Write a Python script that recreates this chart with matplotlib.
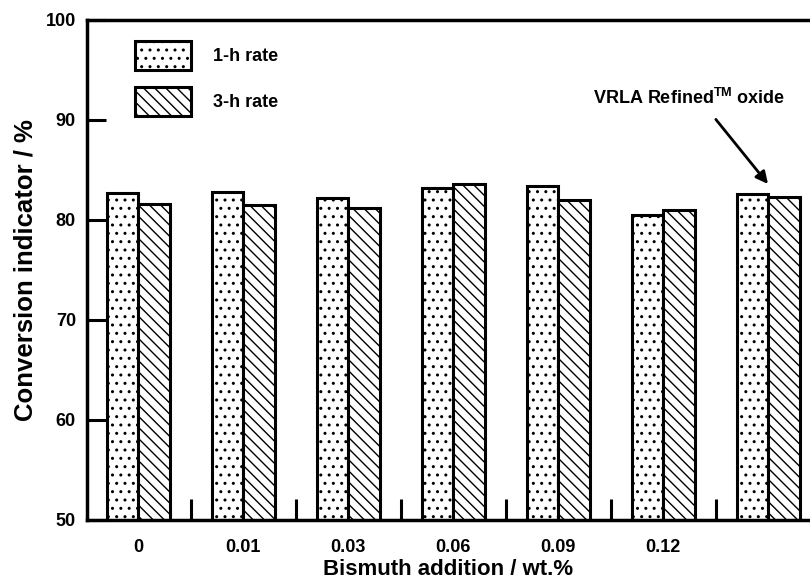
import numpy as np
import matplotlib
matplotlib.use('Agg')
import matplotlib.pyplot as plt
from matplotlib.patches import Patch

plt.rcParams['font.family'] = ['Liberation Sans', 'DejaVu Sans']
plt.rcParams['font.weight'] = 'bold'
plt.rcParams['hatch.linewidth'] = 1.0
plt.rcParams['mathtext.fontset'] = 'custom'
plt.rcParams['mathtext.bf'] = 'Liberation Sans:bold'

# data
groups = ['0', '0.01', '0.03', '0.06', '0.09', '0.12', '']
rate_1h = [82.7, 82.8, 82.2, 83.2, 83.4, 80.5, 82.6]
rate_3h = [81.6, 81.5, 81.2, 83.6, 82.0, 81.0, 82.3]

fig = plt.figure(figsize=(8.1, 5.87), dpi=100)
ax = fig.add_axes([87 / 810, 1 - 520 / 587, 1 - 87 / 810, 500 / 587])

x = np.arange(len(groups))
w = 0.3
ax.bar(x - w / 2, rate_1h, w, bottom=0, color='white', edgecolor='black',
       linewidth=2.2, hatch='..', label='1-h rate')
ax.bar(x + w / 2, rate_3h, w, bottom=0, color='white', edgecolor='black',
       linewidth=2.2, hatch='\\\\\\', label='3-h rate')

ax.set_ylim(50, 100)
ax.set_xlim(-0.49, len(groups) - 0.6)

for s in ['left', 'bottom', 'top']:
    ax.spines[s].set_linewidth(2.5)
ax.spines['right'].set_visible(False)

ax.set_yticks([50, 60, 70, 80, 90, 100])
ax.tick_params(axis='y', direction='in', length=14, width=2.2, labelsize=13, pad=8)

# separator ticks between groups, labels at group centres
ax.set_xticks(x[:-1] + 0.5)
ax.set_xticklabels([])
ax.set_xticks(x, minor=True)
ax.set_xticklabels(groups, minor=True)
ax.tick_params(axis='x', which='major', direction='in', length=15, width=2.2)
ax.tick_params(axis='x', which='minor', length=0, labelsize=13, pad=14)

ax.set_ylabel('Conversion indicator / %', fontsize=18.5, fontweight='bold', labelpad=6)
ax.set_xlabel('Bismuth addition / wt.%', fontsize=16, fontweight='bold', labelpad=2)

handles = [Patch(facecolor='white', edgecolor='black', linewidth=2.2, hatch='..'),
           Patch(facecolor='white', edgecolor='black', linewidth=2.2, hatch='\\\\\\')]
ax.legend(handles, ['1-h rate', '3-h rate'], loc='upper left',
          bbox_to_anchor=(0.044, 0.991), frameon=False, fontsize=13,
          handlelength=3.1, handleheight=2.1, labelspacing=0.95, handletextpad=1.2)

ax.annotate(r'VRLA Refined$^{\mathbf{TM}}$ oxide', xy=(6, 83.6),
            xytext=(5.25, 91.2), ha='center', va='bottom', fontsize=13,
            fontweight='bold',
            arrowprops=dict(arrowstyle='-|>', color='black', lw=2,
                            mutation_scale=18, shrinkA=8, shrinkB=0,
                            relpos=(0.59, 0.0)))

fig.savefig('out.png', dpi=100)
